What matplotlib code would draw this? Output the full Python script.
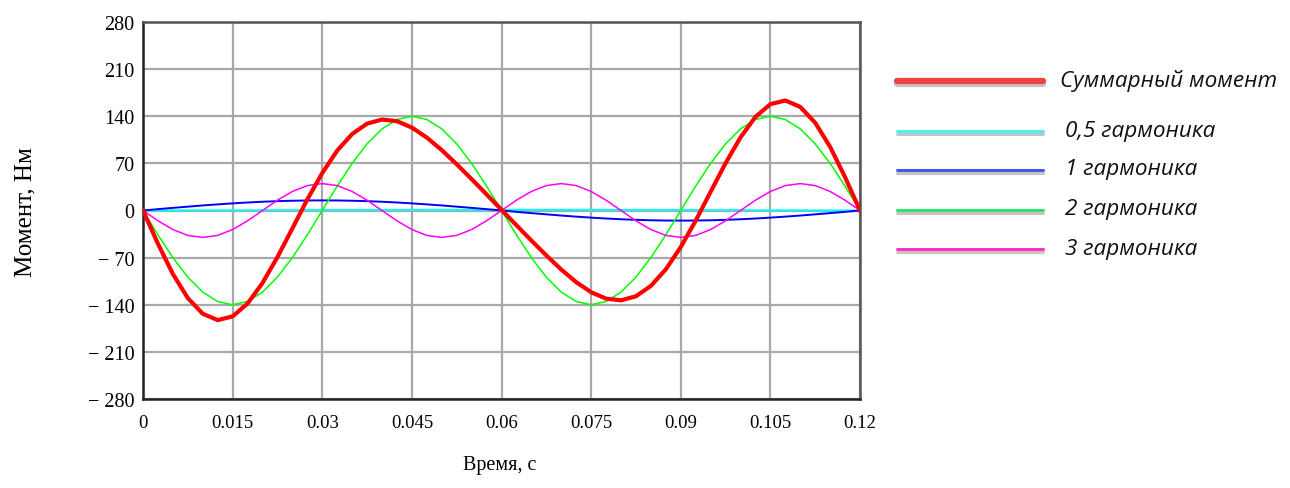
import matplotlib
matplotlib.use('Agg')
import matplotlib.pyplot as plt
import matplotlib.patheffects as pe
from matplotlib.lines import Line2D

# Time grid, step 0.0025 s
time_s = [round(0.0025 * k, 4) for k in range(49)]

# Moment values (N*m)
harm_05 = [0.0, 0.1, 0.1, 0.2, 0.3, 0.3, 0.4, 0.4, 0.5, 0.6, 0.6, 0.7, 0.7,
           0.8, 0.8, 0.8, 0.9, 0.9, 0.9, 1.0, 1.0, 1.0, 1.0, 1.0, 1.0,
           1.0, 1.0, 1.0, 1.0, 1.0, 0.9, 0.9, 0.9, 0.8, 0.8, 0.8, 0.7,
           0.7, 0.6, 0.6, 0.5, 0.4, 0.4, 0.3, 0.3, 0.2, 0.1, 0.1, 0.0]
harm_1 = [0, 2.0, 3.9, 5.7, 7.5, 9.1, 10.6, 11.9, 13.0, 13.9, 14.5, 14.9, 15,
          14.9, 14.5, 13.9, 13.0, 11.9, 10.6, 9.1, 7.5, 5.7, 3.9, 2.0, 0,
          -2.0, -3.9, -5.7, -7.5, -9.1, -10.6, -11.9, -13.0, -13.9, -14.5, -14.9, -15,
          -14.9, -14.5, -13.9, -13.0, -11.9, -10.6, -9.1, -7.5, -5.7, -3.9, -2.0, 0]
harm_2 = [0, -36.2, -70, -99.0, -121.2, -135.2, -140, -135.2, -121.2, -99.0, -70, -36.2,
          0, 36.2, 70, 99.0, 121.2, 135.2, 140, 135.2, 121.2, 99.0, 70, 36.2,
          0, -36.2, -70, -99.0, -121.2, -135.2, -140, -135.2, -121.2, -99.0, -70, -36.2,
          0, 36.2, 70, 99.0, 121.2, 135.2, 140, 135.2, 121.2, 99.0, 70, 36.2, 0]
harm_3 = [0, -15.3, -28.3, -37.0, -40, -37.0, -28.3, -15.3,
          0, 15.3, 28.3, 37.0, 40, 37.0, 28.3, 15.3,
          0, -15.3, -28.3, -37.0, -40, -37.0, -28.3, -15.3,
          0, 15.3, 28.3, 37.0, 40, 37.0, 28.3, 15.3,
          0, -15.3, -28.3, -37.0, -40, -37.0, -28.3, -15.3,
          0, 15.3, 28.3, 37.0, 40, 37.0, 28.3, 15.3, 0]
total = [0, -49.4, -94.3, -130.1, -153.4, -162.8, -157.3, -138.2, -107.7, -69.2,
         -26.6, 16.4, 55.7, 88.9, 113.6, 129.0, 135.1, 132.7, 123.2, 108.3,
         89.7, 68.7, 46.6, 23.9, 1.0, -21.9, -44.6, -66.7, -87.7, -106.4,
         -121.4, -130.9, -133.4, -127.4, -112.0, -87.4, -54.3, -15.1, 27.8, 70.3,
         108.6, 139.0, 158.0, 163.4, 153.9, 130.4, 94.5, 49.5, 0]

x_ticks = [0, 0.015, 0.03, 0.045, 0.06, 0.075, 0.09, 0.105, 0.12]
x_labels = ['0', '0.015', '0.03', '0.045', '0.06', '0.075', '0.09', '0.105', '0.12']
y_ticks = [-280, -210, -140, -70, 0, 70, 140, 210, 280]
y_labels = ['\u2212 280', '\u2212 210', '\u2212 140', '\u2212 70', '0',
            '70', '140', '210', '280']

legend_names = ['Суммарный момент', '0,5 гармоника', '1 гармоника',
                '2 гармоника', '3 гармоника']
legend_colors = ['#f04444', '#44f4f0', '#4458e8', '#34e070', '#ff30c8']

serif = ['Liberation Serif', 'DejaVu Serif']

fig = plt.figure(figsize=(12.9, 4.89), dpi=100)
ax = fig.add_axes([143 / 1290, 1 - 400 / 489, 717 / 1290, 377 / 489])

ax.plot(time_s, harm_05, color='#00ffff', lw=1.4, zorder=3)
ax.plot(time_s, harm_1, color='#0000ff', lw=1.4, zorder=3)
ax.plot(time_s, harm_2, color='#00ff00', lw=1.1, zorder=3)
ax.plot(time_s, harm_3, color='#ff00ff', lw=1.1, zorder=3)
ax.plot(time_s, total, color='#ff0000', lw=3.0, zorder=4,
        solid_joinstyle='round')

ax.set_xlim(0, 0.12)
ax.set_ylim(-280, 280)
ax.set_xticks(x_ticks)
ax.set_xticklabels(x_labels, family=serif, fontsize=13.5)
ax.set_yticks(y_ticks)
ax.set_yticklabels(y_labels, family=serif, fontsize=14.5)
ax.tick_params(length=0, pad=6)
ax.tick_params(axis='x', pad=11)
ax.grid(True, color='#a8a8a8', lw=1.6)
ax.set_axisbelow(True)

for side in ['left', 'bottom']:
    ax.spines[side].set_color('#222222')
    ax.spines[side].set_linewidth(1.8)
for side in ['top', 'right']:
    ax.spines[side].set_color('#555555')
    ax.spines[side].set_linewidth(1.8)

fig.text(25 / 1290, 1 - 212 / 489, 'Момент, Нм', rotation=90, ha='center',
         va='center', family=serif, fontsize=18)
fig.text(500 / 1290, 1 - 466 / 489, 'Время, с', ha='center', va='center',
         family=serif, fontsize=14.5)

# Legend drawn by hand, lines with a soft shadow
leg_y = [82, 132, 171, 211, 250]
for i, (name, col) in enumerate(zip(legend_names, legend_colors)):
    y = 1 - leg_y[i] / 489
    lw = 4.5 if i == 0 else 2.2
    ln = Line2D([897 / 1290, 1043 / 1290], [y, y], transform=fig.transFigure,
                color=col, lw=lw, solid_capstyle='round')
    ln.set_path_effects([pe.SimpleLineShadow(offset=(0, -2.5), shadow_color='#808080', alpha=0.45),
                         pe.Normal()])
    fig.add_artist(ln)
    tx = 1060 if i == 0 else 1065
    fig.text(tx / 1290, y + 1 / 489, name, ha='left', va='center',
             family=['Open Sans', 'DejaVu Sans'], style='italic', fontsize=16.2,
             color='#111111')

fig.savefig('out.png', dpi=100, facecolor='white')
